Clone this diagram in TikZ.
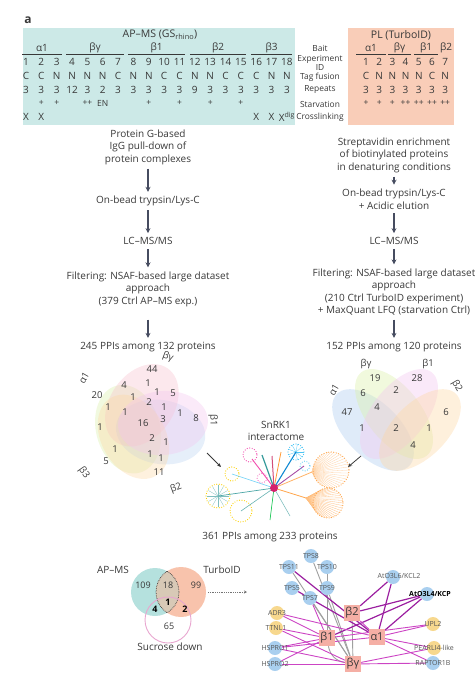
\documentclass[tikz,border=0pt]{standalone}
\usepackage{fontspec}
\setmainfont{Open Sans}
\usetikzlibrary{arrows.meta,positioning,calc}
\pgfdeclarelayer{background}
\pgfsetlayers{background,main}

\definecolor{apbg}{HTML}{CCE9E7}
\definecolor{plbg}{HTML}{F9CDB8}
\definecolor{ink}{HTML}{383838}
\definecolor{arrowc}{HTML}{464C60}
\definecolor{va1}{HTML}{B9D3F2}
\definecolor{vbg}{HTML}{D9EFA6}
\definecolor{vb1}{HTML}{F3C6EF}
\definecolor{vb2}{HTML}{FDD7A4}
\definecolor{vb3}{HTML}{F8C0CC}
\definecolor{hubc}{HTML}{F5AFA5}
\definecolor{bluen}{HTML}{A9CFEF}
\definecolor{yelln}{HTML}{F7D88E}
\definecolor{mage}{HTML}{CC44C4}
\definecolor{purp}{HTML}{9B1FA0}
\definecolor{sucr}{HTML}{E8A6CF}
\definecolor{lensc}{HTML}{D8C9B6}
\definecolor{tealc}{HTML}{B5E1DE}
\definecolor{salc}{HTML}{F8C3AC}

\begin{document}
\begin{tikzpicture}[x=1pt,y=-1pt,text=ink,font=\fontsize{10}{12}\selectfont]
\tikzset{
  tabcell/.style={inner sep=0pt,font=\fontsize{10}{10}\selectfont},
  rowlabel/.style={inner sep=0pt,align=center,font=\fontsize{8.4}{8}\selectfont},
  grpline/.style={draw=ink,line width=.8pt},
  steptext/.style={align=center,inner sep=1pt,font=\fontsize{10}{12.5}\selectfont},
  flowarrow/.style={draw=arrowc,line width=1.1pt,-{Stealth[length=5pt,width=5pt]},shorten <=3pt,shorten >=3pt},
  vnum/.style={inner sep=0pt,font=\fontsize{9.5}{10}\selectfont},
  dotring/.style={line width=1.2pt,line cap=round,dash pattern=on 0pt off 2.5pt},
  hub/.style={fill=hubc,minimum size=16pt,inner sep=0pt,font=\fontsize{11}{11}\selectfont},
  bnode/.style={circle,fill=bluen,minimum size=14pt,inner sep=0pt},
  ynode/.style={circle,fill=yelln,minimum size=14pt,inner sep=0pt},
  nlabel/.style={inner sep=0pt,font=\fontsize{7}{7}\selectfont,text=ink!85},
  pedge/.style={mage,line width=.9pt},
  dedge/.style={purp,line width=1.2pt},
  gedge/.style={gray!75,line width=.9pt}
}
\useasboundingbox (0,0) rectangle (474,682);
\node at (28,20) (panel) {\fontsize{12}{12}\selectfont\bfseries a};

% experiment tables
\fill[apbg] (23,28) rectangle (295,125);
\fill[plbg] (348,28) rectangle (454,125);
\node at (160,35) (aptitle) {\fontsize{10.5}{11}\selectfont AP–MS (GS\textsubscript{rhino})};
\node at (401,35) (pltitle) {\fontsize{10.5}{11}\selectfont PL (TurboID)};

\foreach \g/\a/\b in {α1/22/62, βγ/66/124, β1/128/185, β2/190/246, β3/251/292}{
  \node[tabcell] at ({(\a+\b)/2},48) (ap-grp-\a) {\g};
  \draw[grpline] (\a,54) -- (\b,54);
}
\foreach \tg/\rp [count=\i] in {C/3,C/3,N/3,N/12,N/3,N/2,C/3,N/3,N/3,C/3,C/3,N/9,N/3,C/3,C/3,C/3,N/3,N/3}{
  \pgfmathsetmacro{\cx}{26+(\i-1)*15.35}
  \node[tabcell] at (\cx,62) (ap-id-\i) {\i};
  \node[tabcell] at (\cx,76) (ap-tag-\i) {\tg};
  \node[tabcell] at (\cx,90) (ap-rep-\i) {\rp};
}
\foreach \i/\s in {2/+,3/+,5/++,6/EN,9/+,11/+,13/+,15/+}{
  \pgfmathsetmacro{\cx}{26+(\i-1)*15.35}
  \node[tabcell,font=\fontsize{8.5}{8}\selectfont] at (\cx,103) (ap-stv-\i) {\s};
}
\foreach \i/\s in {1/X,2/X,16/X,17/X,18/X\textsuperscript{dig}}{
  \pgfmathsetmacro{\cx}{26+(\i-1)*15.35}
  \node[tabcell] at (\cx,117) (ap-xl-\i) {\s};
}

\node[rowlabel] at (320,48) (lab-bait) {Bait};
\node[rowlabel,font=\fontsize{8.4}{8.5}\selectfont] at (320,63) (lab-id) {Experiment\\ID};
\node[rowlabel] at (320,77) (lab-tag) {Tag fusion};
\node[rowlabel] at (320,90) (lab-rep) {Repeats};
\node[rowlabel] at (320,104) (lab-stv) {Starvation};
\node[rowlabel] at (320,117) (lab-xl) {Crosslinking};

\foreach \g/\a/\b in {α1/356/386, βγ/388/411, β1/414/438}{
  \node[tabcell] at ({(\a+\b)/2},48) (pl-grp-\a) {\g};
  \draw[grpline] (\a,54) -- (\b,54);
}
\node[tabcell] at (446,48) (pl-grp-b2) {β2};
\foreach \tg/\st [count=\i] in {C/+,N/+,N/+,N/++,N/++,C/++,N/++}{
  \pgfmathsetmacro{\cx}{366+(\i-1)*13.2}
  \node[tabcell] at (\cx,62) (pl-id-\i) {\i};
  \node[tabcell] at (\cx,76) (pl-tag-\i) {\tg};
  \node[tabcell] at (\cx,90) (pl-rep-\i) {3};
  \node[tabcell,font=\fontsize{8.5}{8}\selectfont] at (\cx,103) (pl-stv-\i) {\st};
}

% AP-MS workflow
\node[steptext] at (148,147) (lstep1) {Protein G-based\\IgG pull-down of\\protein complexes};
\node[steptext] at (148,201) (lstep2) {On-bead trypsin/Lys-C};
\node[steptext] at (148,241) (lstep3) {LC–MS/MS};
\node[steptext] at (148,289) (lstep4) {Filtering: NSAF-based large dataset\\approach\\(379 Ctrl AP–MS exp.)};
\node[steptext] at (148,347) (lppi) {245 PPIs among 132 proteins};
\draw[flowarrow] (lstep1) -- (lstep2);
\draw[flowarrow] (lstep2) -- (lstep3);
\draw[flowarrow] (lstep3) -- (lstep4);
\draw[flowarrow,shorten <=12pt] (lstep4) -- (lppi);

% TurboID workflow
\node[steptext] at (394,155) (rstep1) {Streptavidin enrichment\\of biotinylated proteins\\in denaturing conditions};
\node[steptext] at (394,199) (rstep2) {On-bead trypsin/Lys-C\\+ Acidic elution};
\node[steptext] at (394,241) (rstep3) {LC–MS/MS};
\node[steptext] at (394,292) (rstep4) {Filtering: NSAF-based large dataset\\approach\\(210 Ctrl TurboID experiment)\\+ MaxQuant LFQ (starvation Ctrl)};
\node[steptext] at (394,347) (rppi) {152 PPIs among 120 proteins};
\draw[flowarrow] (rstep1) -- (rstep2);
\draw[flowarrow] (rstep2) -- (rstep3);
\draw[flowarrow] (rstep3) -- (rstep4);
\draw[flowarrow] (rstep4) -- (rppi);

% five-bait venn (AP-MS)
\coordinate (lvenn) at (145,423);
\foreach \ang/\col in {95/vbg,160/va1,225/vb3,290/vb2,355/vb1}
  \fill[\col,fill opacity=.36,rotate around={\ang+10:($(lvenn)+(-\ang:18)$)}]
    ($(lvenn)+(-\ang:18)$) ellipse [x radius=45, y radius=32];
\node[vnum,rotate=-20] at (168,357) (lv-bg) {βγ};
\node[vnum,rotate=60] at (84,378) (lv-a1) {α1};
\node[vnum,rotate=-90] at (213,420) (lv-b1) {β1};
\node[vnum,rotate=-55] at (84,473) (lv-b3) {β3};
\node[vnum,rotate=20] at (176,488) (lv-b2) {β2};
\foreach \x/\y/\n [count=\k] in {152/369/44,124/385/4,148/383/1,157/392/1,173/393/5,97/395/20,
  133/397/1,149/402/2,108/407/1,164/407/1,125/412/1,163/419/3,180/413/1,196/418/8,143/423/16,
  100/427/1,152/438/2,166/442/1,115/449/1,106/461/5,150/454/1,161/458/1,159/472/11}
  \node[vnum] at (\x,\y) (lv-n\k) {\n};

% four-bait venn (TurboID)
\fill[va1,fill opacity=.45,rotate around={-45:(373,430)}] (373,430) ellipse [x radius=51, y radius=27];
\fill[vbg,fill opacity=.38,rotate around={-52:(394,414)}] (394,414) ellipse [x radius=53, y radius=27];
\fill[vb1,fill opacity=.38,rotate around={52:(399,414)}] (399,414) ellipse [x radius=53, y radius=27];
\fill[vb2,fill opacity=.38,rotate around={45:(420,430)}] (420,430) ellipse [x radius=51, y radius=27];
\node[vnum] at (366,364) (rv-bg) {βγ};
\node[vnum] at (428,364) (rv-b1) {β1};
\node[vnum,rotate=60] at (334,390) (rv-a1) {α1};
\node[vnum,rotate=-60] at (457,386) (rv-b2) {β2};
\foreach \x/\y/\n [count=\k] in {375/378/19,417/378/28,363/393/6,396/390/2,347/412/47,377/407/4,
  446/412/6,362/428/1,396/428/2,429/428/1,413/445/4}
  \node[vnum] at (\x,\y) (rv-n\k) {\n};

% SnRK1 interactome sketch
\node[steptext] at (276,431) (snrk) {SnRK1\\interactome};
\coordinate (nethub) at (274,488);
\begin{scope}[line width=.3pt]
  \foreach \a in {0,10,...,350} \draw[orange!35] (312,472) -- ($(331,470)+(\a:18)$);
  \foreach \a in {0,10,...,350} \draw[orange!50] (306,498) -- ($(328,503)+(\a:15)$);
  \foreach \a in {0,30,...,330} \draw[teal!50] (218,496) -- ($(218,496)+(\a:11)$);
  \foreach \a in {0,40,...,320} \draw[cyan!70] (296,452) -- ($(296,452)+(\a:8)$);
\end{scope}
\draw[orange!60,line width=.8pt] (nethub) -- (312,472);
\draw[orange!70,line width=.8pt] (nethub) -- (306,498);
\draw[orange!70,dotring] (331,470) circle (18);
\draw[orange!70,dotring] (328,503) circle (15);
\draw[yellow!70!orange,dotring] (218,496) circle (12);
\draw[yellow!70!orange,dotring] (241,511) circle (11);
\draw[yellow!70!orange,dotring] (232,474) circle (7);
\draw[teal!70,line width=.7pt] (nethub) -- (218,496);
\draw[teal!60,line width=.6pt] (nethub) -- (241,511);
\draw[cyan!60,line width=.6pt] (nethub) -- (232,474);
\draw[green!50!teal,line width=.6pt] (nethub) -- (270,520);
\draw[teal!50,line width=.6pt] (nethub) -- (290,516);
\draw[magenta!70,line width=.9pt] (nethub) -- (252,459);
\draw[magenta!70,dotring] (250,455) circle (7);
\draw[teal!80,line width=1.2pt] (nethub) -- (262,455);
\draw[purple!70,line width=1pt] (nethub) -- (272,456);
\draw[orange!80,line width=.8pt] (nethub) -- (281,452);
\draw[cyan!70!blue,line width=1.1pt] (nethub) -- (296,452);
\draw[cyan!70,dotring] (296,452) circle (8);
\draw[violet!70,line width=.9pt] (nethub) -- (304,466);
\draw[cyan!70,dotring] (305,466) circle (5);
\draw[magenta!60,dotring] (262,478) circle (5);
\fill[magenta!50!purple] (nethub) circle (4);
\coordinate (lv-out) at (207,453);
\coordinate (lv-in) at (221,467);
\coordinate (rv-out) at (361,456);
\coordinate (rv-in) at (348,467);
\draw[draw=ink,line width=.8pt,-{Stealth[length=4pt,width=3.5pt]}] (lv-out) -- (lv-in);
\draw[draw=ink,line width=.8pt,-{Stealth[length=4pt,width=3.5pt]}] (rv-out) -- (rv-in);
\node[steptext] at (270,537) (allppi) {361 PPIs among 233 proteins};

% overlap venn
\fill[tealc] (155,592) circle (24);
\fill[salc] (181,592) circle (25);
\begin{scope}
  \clip (155,592) circle (24);
  \fill[lensc] (181,592) circle (25);
  \draw[ink,densely dotted,line width=.7pt] (181,592) circle (25);
\end{scope}
\begin{scope}
  \clip (181,592) circle (25);
  \draw[ink,densely dotted,line width=.7pt] (155,592) circle (24);
\end{scope}
\draw[sucr,line width=.9pt] (168,620) circle (23);
\node[steptext] at (113,570) (bv-ap) {AP–MS};
\node[steptext] at (222,570) (bv-pl) {TurboID};
\node[steptext] at (170,647) (bv-suc) {Sucrose down};
\foreach \x/\y/\n [count=\k] in {143/585/109,168/585/18,196/585/99,169/626/65}
  \node[vnum,font=\fontsize{9}{10}\selectfont] at (\x,\y) (bv-n\k) {\n};
\foreach \x/\y/\n [count=\k] in {168/602/1,155/609/4,185/609/2}
  \node[vnum,font=\fontsize{9}{10}\selectfont\bfseries,text=black] at (\x,\y) (bv-b\k) {\n};
\coordinate (bv-out) at (208,592);
\coordinate (net-in) at (247,592);
\draw[ink!70,densely dotted,line width=.8pt,-{Stealth[length=3pt,width=3pt]}] (bv-out) -- (net-in);

% core network
\node[hub] at (352,613) (nb2) {β2};
\node[hub] at (327,638) (nb1) {β1};
\node[hub] at (377,637) (na1) {α1};
\node[hub] at (353,664) (nbg) {βγ};
\foreach \nm/\x/\y/\t in {tps8/311/556/TPS8, tps11/289/567/TPS11, tps10/327/567/TPS10,
  tps5/292/588/TPS5, tps9/327/588/TPS9, tps7/310/598/TPS7, kcl2/393/577/,
  kcp/427/594/, hspro1/275/648/HSPRO1, hspro2/275/664/HSPRO2, raptor/433/663/RAPTOR1B}{
  \node[bnode] at (\x,\y) (\nm) {};
  \node[nlabel] at (\nm) (\nm-l) {\t};
}
\foreach \nm/\x/\y/\t in {adr3/277/613/ADR3, ttnl1/276/628/TTNL1, upl2/433/624/UPL2,
  pearli4/434/648/PEARLI4-like}{
  \node[ynode] at (\x,\y) (\nm) {};
  \node[nlabel] at (\nm) (\nm-l) {\t};
}
\node[nlabel] at (399,576) (kcl2-l) {AtO3L6/KCL2};
\node[nlabel,font=\fontsize{7}{7}\selectfont\bfseries,text=black] at (430,594) (kcp-l) {AtO3L4/KCP};
\begin{pgfonlayer}{background}
  \foreach \a/\b in {tps8/nbg,tps11/nbg,tps10/nb1,tps9/nbg,tps7/nbg,nb2/nbg}
    \draw[gedge] (\a) -- (\b);
  \draw[gedge] (nb1) to[bend right=35] (nbg);
  \foreach \a/\b in {tps11/na1,tps5/na1,kcl2/na1,kcl2/nb2,kcp/nb2,kcp/na1,kcp/nb1}
    \draw[dedge] (\a) -- (\b);
  \foreach \a/\b in {adr3/nb1,adr3/na1,ttnl1/nb1,hspro1/nb1,hspro1/nbg,hspro1/na1,hspro2/nb1,
    hspro2/nbg,upl2/na1,upl2/nb1,pearli4/na1,pearli4/nbg,raptor/na1,raptor/nbg,nb2/na1,
    ttnl1/nbg,tps7/nb1}
    \draw[pedge] (\a) -- (\b);
\end{pgfonlayer}
\end{tikzpicture}
\end{document}
